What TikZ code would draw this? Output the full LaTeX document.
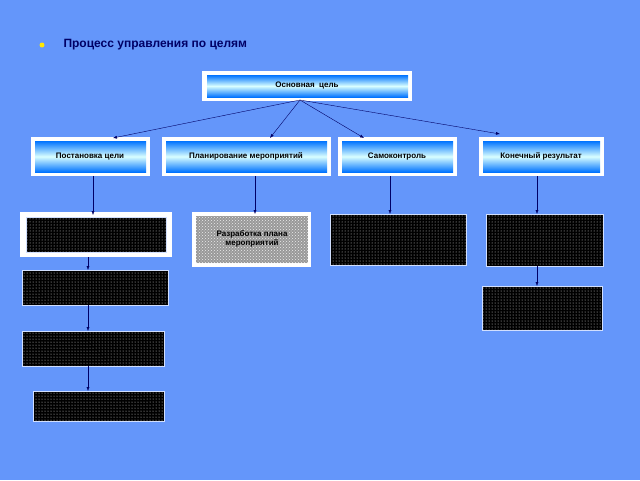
\documentclass[tikz,border=0pt]{standalone}
\usepackage{fontspec}
\setmainfont{Liberation Sans}
\usetikzlibrary{patterns,arrows.meta}
\definecolor{bg}{RGB}{100,150,250}
\definecolor{navy}{RGB}{0,0,102}
\begin{document}
\begin{tikzpicture}[x=1pt,y=-1pt,
  frame/.style={fill=white,draw=none},
  grad/.style={top color=blue!55!cyan,bottom color=blue!55!cyan,middle color=white!85!cyan,draw=none},
  lbl/.style={font=\bfseries\fontsize{8}{9}\selectfont,align=center},
  blk/.style={fill=black,pattern=dots,pattern color=white!70!gray,draw=white!70!bg},
  arr/.style={-{Latex[length=4pt,width=3pt]},draw=navy,thin}]
\fill[bg] (0,0) rectangle (640,480);
\useasboundingbox (0,0) rectangle (640,480);
\fill[yellow!90!orange] (42,45) circle (2.5);
\node[anchor=west,font=\bfseries\fontsize{12}{14}\selectfont,text=navy] (title) at (60,45) {Процесс управления по целям};
% top
\fill[frame] (202,71) rectangle (412,101);
\shade[grad] (207,75) rectangle (408,97);
\node[lbl] (top) at (307,86) {Основная \ цель};
\coordinate (hub) at (300,100);
% level 2
\fill[frame] (31,137) rectangle (150,176); \shade[grad] (35,141) rectangle (146,172);
\node[lbl] (a) at (90,156.5) {Постановка цели};
\fill[frame] (162,137) rectangle (331,176); \shade[grad] (166,141) rectangle (327,172);
\node[lbl] (b) at (246,156.5) {Планирование мероприятий};
\fill[frame] (338,137) rectangle (457,176); \shade[grad] (342,141) rectangle (453,172);
\node[lbl] (c) at (397,156.5) {Самоконтроль};
\fill[frame] (479,137) rectangle (604,176); \shade[grad] (483,141) rectangle (600,172);
\node[lbl] (d) at (541,156.5) {Конечный результат};
\coordinate (at) at (113,138); \coordinate (bt) at (270,138);
\coordinate (ct) at (364,138); \coordinate (dt) at (500,134);
\draw[arr] (hub) -- (at); \draw[arr] (hub) -- (bt);
\draw[arr] (hub) -- (ct); \draw[arr] (hub) -- (dt);
% left column
\fill[frame] (20,212) rectangle (172,257);
\fill[black] (26,217) rectangle (166,252); \path[blk] (26,217) rectangle (166,252);
\fill[black] (22,270) rectangle (168,305); \path[blk] (22,270) rectangle (168,305);
\fill[black] (22,331) rectangle (164,366); \path[blk] (22,331) rectangle (164,366);
\fill[black] (33,391) rectangle (164,421); \path[blk] (33,391) rectangle (164,421);
\coordinate (a0) at (93,176); \coordinate (a1) at (93,215);
\coordinate (a2) at (88,257); \coordinate (a3) at (88,270);
\coordinate (a4) at (88,305); \coordinate (a5) at (88,331);
\coordinate (a6) at (88,366); \coordinate (a7) at (88,391);
\draw[arr] (a0) -- (a1); \draw[arr] (a2) -- (a3);
\draw[arr] (a4) -- (a5); \draw[arr] (a6) -- (a7);
% plan
\fill[frame] (192,212) rectangle (311,267);
\fill[gray!80] (196,216) rectangle (308,263);
\path[pattern=crosshatch dots,pattern color=white!85!gray] (196,216) rectangle (308,263);
\node[lbl] (e) at (252,239) {Разработка плана\\мероприятий};
\coordinate (b0) at (255,176); \coordinate (b1) at (255,214);
\draw[arr] (b0) -- (b1);
% self control
\fill[black] (330,214) rectangle (466,265); \path[blk] (330,214) rectangle (466,265);
\coordinate (c0) at (390,176); \coordinate (c1) at (390,214);
\draw[arr] (c0) -- (c1);
% result
\fill[black] (486,214) rectangle (603,266); \path[blk] (486,214) rectangle (603,266);
\fill[black] (482,286) rectangle (602,330); \path[blk] (482,286) rectangle (602,330);
\coordinate (d0) at (537,176); \coordinate (d1) at (537,214);
\coordinate (d2) at (537,266); \coordinate (d3) at (537,286);
\draw[arr] (d0) -- (d1); \draw[arr] (d2) -- (d3);
\end{tikzpicture}
\end{document}
